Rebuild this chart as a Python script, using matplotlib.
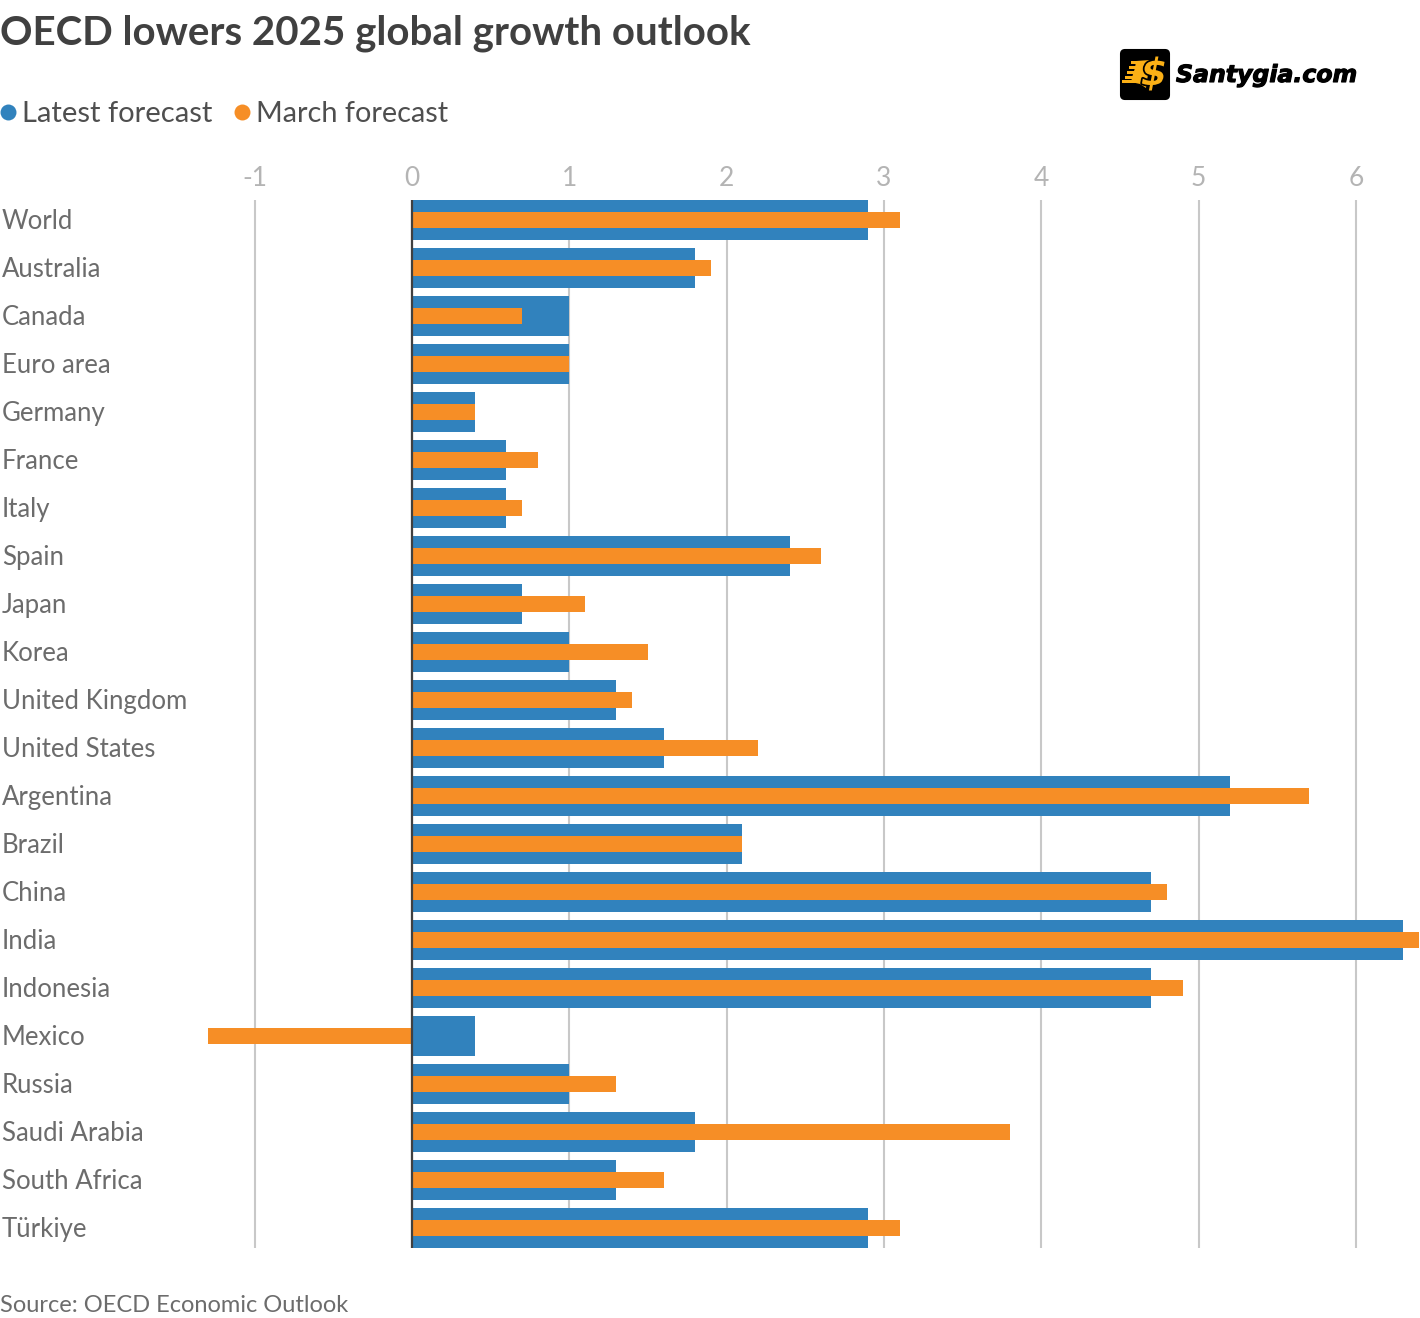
import matplotlib
matplotlib.use("Agg")
import matplotlib.pyplot as plt
import matplotlib.patheffects as pe
from matplotlib.patches import FancyBboxPatch, Polygon, Rectangle
from matplotlib.transforms import ScaledTranslation

plt.rcParams["font.family"] = ["Lato", "DejaVu Sans"]

countries = ["World", "Australia", "Canada", "Euro area", "Germany", "France", "Italy",
             "Spain", "Japan", "Korea", "United Kingdom", "United States", "Argentina",
             "Brazil", "China", "India", "Indonesia", "Mexico", "Russia", "Saudi Arabia",
             "South Africa", "Türkiye"]
latest = [2.9, 1.8, 1.0, 1.0, 0.4, 0.6, 0.6, 2.4, 0.7, 1.0, 1.3, 1.6, 5.2, 2.1, 4.7, 6.3,
          4.7, 0.4, 1.0, 1.8, 1.3, 2.9]
march = [3.1, 1.9, 0.7, 1.0, 0.4, 0.8, 0.7, 2.6, 1.1, 1.5, 1.4, 2.2, 5.7, 2.1, 4.8, 6.4,
         4.9, -1.3, 1.3, 3.8, 1.6, 3.1]
xticks = [-1, 0, 1, 2, 3, 4, 5, 6]

BLUE = "#3182bd"
ORANGE = "#f68e26"
GOLD = "#fbb016"
W, H = 1420, 1318
PX_PER_UNIT = 157.3
X0 = 412

fig = plt.figure(figsize=(W / 100, H / 100), dpi=100)

# bars, axes placed in pixels
ax = fig.add_axes([2 / W, 1 - 1248 / H, (W - 2) / W, 1048 / H])
ypos = list(range(len(countries)))
ax.barh(ypos, latest, height=40 / 48, color=BLUE, zorder=2)
ax.barh(ypos, march, height=16 / 48, color=ORANGE, zorder=3)
ax.axvline(0, color="#404040", lw=1.6, zorder=4)

ax.set_xlim((2 - X0) / PX_PER_UNIT, (W - X0) / PX_PER_UNIT)
ax.set_ylim(len(countries) - 1 + 20 / 48, -20 / 48)
ax.set_xticks(xticks)
ax.set_xticklabels([str(t) for t in xticks])
ax.xaxis.tick_top()
ax.grid(axis="x", color="#c8c8c8", lw=1.5, zorder=1)
ax.set_axisbelow(True)
ax.tick_params(axis="x", length=0, pad=6.5, labelsize=19, labelcolor="#b4b4b4")
ax.set_yticks(ypos)
ax.set_yticklabels(countries, ha="left")
ax.tick_params(axis="y", length=0, pad=0, labelsize=18.5, labelcolor="#6c6c6c")
# nudge the row labels up a little, they sit above the bar centre
for lab in ax.get_yticklabels():
    lab.set_transform(lab.get_transform() + ScaledTranslation(0, 1 / 72, fig.dpi_scale_trans))
for s in ax.spines.values():
    s.set_visible(False)
ax.patch.set_alpha(0)

# overlay in pixel coordinates for the header, legend and logo
ov = fig.add_axes([0, 0, 1, 1], zorder=5)
ov.set_xlim(0, W)
ov.set_ylim(H, 0)
ov.axis("off")

ov.text(0, 33, "OECD lowers 2025 global growth outlook", fontsize=29, fontweight="bold",
        color="#404040", va="center", ha="left")

ov.scatter([8], [112], s=132, color=BLUE, linewidths=0)
ov.text(22, 114, "Latest forecast", fontsize=21, color="#4f4f4f", va="center")
ov.scatter([242], [112], s=132, color=ORANGE, linewidths=0)
ov.text(256, 114, "March forecast", fontsize=20.8, color="#4f4f4f", va="center")

ov.text(0, 1305, "Source: OECD Economic Outlook", fontsize=17, color="#6c6c6c", va="center")

# logo
ov.add_patch(FancyBboxPatch((1121, 50), 48, 49, boxstyle="round,pad=0,rounding_size=4",
                            fc="black", ec="black", lw=1.5))
ov.add_patch(Polygon([(1136, 61), (1150, 60), (1146, 88), (1140, 84), (1131, 82), (1133, 74),
                      (1135, 68)], closed=True, fc=GOLD, ec="none"))
for y0, x0, x1 in [(61, 1131, 1140), (66, 1129, 1140), (71, 1127, 1140), (76, 1125, 1140), (80, 1122, 1140)]:
    ov.add_patch(Rectangle((x0, y0), x1 - x0, 3, fc=GOLD, ec="none"))
ov.text(1154, 75, "$", fontsize=27, fontweight="bold", style="italic", color=GOLD,
        ha="center", va="center", family="DejaVu Sans",
        path_effects=[pe.withStroke(linewidth=2.5, foreground="black")])
ov.text(1176, 75, "Santygia.com", fontsize=17, fontweight="bold", style="italic", color="black",
        ha="left", va="center", family="DejaVu Sans",
        path_effects=[pe.withStroke(linewidth=0.8, foreground="black")])

fig.savefig("out.png", dpi=100)
